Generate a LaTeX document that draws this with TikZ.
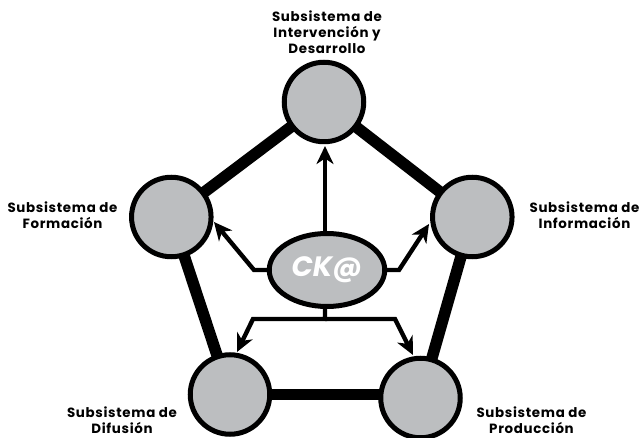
\documentclass[tikz,border=0pt]{standalone}
\usepackage{fontspec}
\setmainfont{Poppins}[LetterSpace=5]
\newfontfamily\ckfont{Poppins}
\usetikzlibrary{arrows.meta,shapes.geometric}
\definecolor{fillgray}{HTML}{BCBEC0}
\begin{document}
\begin{tikzpicture}[x=1pt,y=-1pt,
 sub/.style={circle,draw=black,line width=5pt,fill=fillgray,minimum size=79.5pt,inner sep=0pt,outer sep=0pt},
 lbl/.style={align=center,font=\fontsize{13.4}{16}\selectfont\bfseries,inner sep=0pt},
 edgeb/.style={line width=11.5pt},
 arr/.style={line width=4.4pt,-{Stealth[length=18pt,width=17pt,inset=5.5pt]}}]
\useasboundingbox (0,0) rectangle (641,438);
\path[fill=white] (0,0) rectangle (641,438);
\node[sub] (t) at (324,102) {};
\node[sub] (l) at (171.3,217) {};
\node[sub] (r) at (472.3,217) {};
\node[sub] (bl) at (230,394.5) {};
\node[sub] (br) at (420.5,398) {};
\draw[edgeb] (t)--(l); \draw[edgeb] (t)--(r); \draw[edgeb] (l)--(bl); \draw[edgeb] (r)--(br); \draw[edgeb] (bl.east)--(bl.east -| br.west);
\node[ellipse,draw=black,line width=5pt,fill=fillgray,minimum width=115.5pt,minimum height=73pt,inner sep=0pt,outer sep=0pt,text=white,font=\ckfont\fontsize{28}{28}\selectfont\bfseries\itshape] (c) at (327,270) {\raisebox{-2pt}{CK@}};
\coordinate (ttip) at (325,146);
\coordinate (la) at (254,270); \coordinate (ltip) at (214,222);
\coordinate (ra) at (399,270); \coordinate (rtip) at (429,224);
\coordinate (s) at (325,319); \coordinate (sl) at (253,319); \coordinate (sr) at (395,319);
\coordinate (bltip) at (237,352); \coordinate (brtip) at (413,355);
\draw[arr] (c.north -| ttip)--(ttip);
\draw[arr] (c.west)--(la)--(ltip);
\draw[arr] (c.east)--(ra)--(rtip);
\draw[arr] (c.south -| s)--(s)--(sl)--(bltip);
\draw[arr] (s)--(sr)--(brtip);
\node[lbl] (lt) at (327,32) {Subsistema de\\Intervención y\\Desarrollo};
\node[lbl] (ll) at (62.5,215) {Subsistema de\\Formación};
\node[lbl] (lr) at (584.5,215) {Subsistema de\\Información};
\node[lbl] (lb) at (122,420) {Subsistema de\\Difusión};
\node[lbl] (lp) at (531.5,420) {Subsistema de\\Producción};
\end{tikzpicture}
\end{document}
